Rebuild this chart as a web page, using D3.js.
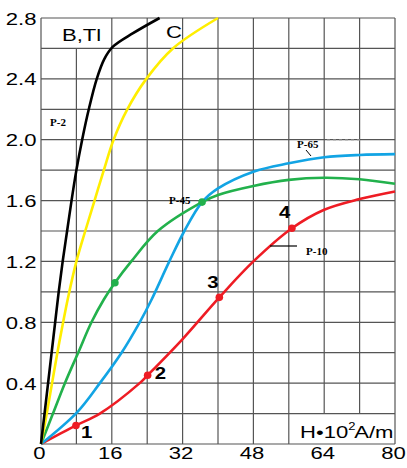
<!DOCTYPE html>
<html lang="en">
<head>
<meta charset="UTF-8">
<title>B-H curves</title>
<script src="https://cdn.jsdelivr.net/npm/d3@7"></script>
<style>
  body { margin: 0; background: #fff; }
  .tick text { font-family: "Liberation Sans", Arial, sans-serif; font-size: 17px; fill: #000; }
  .lbl { font-family: "Liberation Sans", Arial, sans-serif; fill: #000; }
  .plbl { font-family: "Liberation Serif", "Times New Roman", serif; font-weight: bold; font-size: 11px; fill: #000; }
</style>
</head>
<body>
<div id="chart"></div>
<script>
// axis ticks
const xTicks = [0, 16, 32, 48, 64, 80];
const yTicks = [0.4, 0.8, 1.2, 1.6, 2.0, 2.4, 2.8];
const xGrid = d3.range(0, 81, 8);
const yGrid = d3.range(0, 2.81, 0.2);

// curves: [H, B]
const curveB = [[0,0],[0.8,0.2],[1.6,0.4],[2.4,0.6],[3.2,0.8],[4.0,1.0],[4.9,1.2],[5.9,1.4],[6.9,1.6],[8.0,1.8],[9.3,2.0],[10.8,2.2],[12.6,2.4],[14.3,2.53],[16.2,2.61],[20.8,2.7],[26.8,2.8]];
const curveC = [[0,0],[1.3,0.2],[2.5,0.4],[3.7,0.6],[5.0,0.8],[6.1,0.96],[8.0,1.2],[10.0,1.4],[12.1,1.6],[14.2,1.8],[16.4,2.0],[19.5,2.2],[23.8,2.4],[29.8,2.6],[40,2.8]];
const curveP45 = [[0,0],[2.7,0.2],[5.4,0.4],[8.4,0.6],[11.4,0.8],[14.2,0.95],[16.7,1.06],[20.4,1.2],[26.4,1.4],[36.4,1.59],[40,1.637],[48,1.696],[56,1.736],[64,1.75],[72,1.74],[80,1.71]];
const curveP65 = [[0,0],[8.2,0.21],[13.3,0.4],[18.2,0.6],[22.3,0.8],[25,0.95],[29,1.2],[32.4,1.4],[36.4,1.59],[40,1.68],[48,1.79],[56,1.845],[64,1.885],[72,1.9],[80,1.905]];
const curveP10 = [[0,0],[7.9,0.122],[13.3,0.2],[22.3,0.4],[24.1,0.452],[32,0.69],[40.3,0.964],[48,1.2],[56.7,1.418],[64,1.54],[72,1.61],[80,1.66]];

const redPoints = [[7.9,0.122,"1"],[24.1,0.452,"2"],[40.3,0.964,"3"],[56.7,1.418,"4"]];
const greenPoints = [[16.7,1.06],[36.4,1.59]];

const width = 407, height = 468;
const x = d3.scaleLinear([0, 80], [41, 395]);
const y = d3.scaleLinear([0, 2.8], [444, 18]);

const svg = d3.select("#chart").append("svg").attr("width", width).attr("height", height);

// grid (some lines are cut by the label boxes)
const gridTop = v => v > 0 && v < 16 ? 2.6 : 2.8;
const gridBottom = v => v > 56 && v < 80 ? 0.2 : 0;
svg.append("g").selectAll("line").data(xGrid).join("line")
  .attr("x1", d => x(d)).attr("x2", d => x(d))
  .attr("y1", d => y(gridBottom(d))).attr("y2", d => y(gridTop(d)))
  .attr("stroke", "#555").attr("stroke-width", 1.2);
svg.append("g").selectAll("line").data(yGrid).join("line")
  .attr("x1", x(0)).attr("x2", x(80))
  .attr("y1", d => y(d)).attr("y2", d => y(d))
  .attr("stroke", "#555").attr("stroke-width", 1.2);

// axes, text only
const sx = 1.3;
svg.append("g").attr("transform", `translate(${x(0)},0)`)
  .call(d3.axisLeft(y).tickValues(yTicks).tickSize(0).tickFormat(d3.format(".1f")))
  .call(g => g.select(".domain").remove())
  .call(g => g.selectAll("text").attr("x", -4.5 / sx).attr("dy", "0.36em").attr("transform", `scale(${sx},1)`));
svg.append("g").attr("transform", `translate(0,${y(0)})`)
  .call(d3.axisBottom(x).tickValues(xTicks).tickSize(0).tickFormat(d3.format("d")))
  .call(g => g.select(".domain").remove())
  .call(g => g.selectAll("text").attr("y", 3).attr("x", -2 / sx).attr("transform", `scale(${sx},1)`));

// curves
const line = d3.line().x(d => x(d[0])).y(d => y(d[1])).curve(d3.curveCatmullRom.alpha(0.5));
const curves = [
  [curveP10, "#ee1c24"],
  [curveP45, "#22b14c"],
  [curveP65, "#12a4e4"],
  [curveC, "#ffee00"],
  [curveB, "#000000"]
];
svg.append("g").selectAll("path").data(curves).join("path")
  .attr("d", d => line(d[0]))
  .attr("fill", "none")
  .attr("stroke", d => d[1])
  .attr("stroke-width", 2.6);

// markers
svg.append("g").selectAll("circle").data(redPoints).join("circle")
  .attr("cx", d => x(d[0])).attr("cy", d => y(d[1])).attr("r", 3.8).attr("fill", "#ee1c24");
svg.append("g").selectAll("circle").data(greenPoints).join("circle")
  .attr("cx", d => x(d[0])).attr("cy", d => y(d[1])).attr("r", 3.8).attr("fill", "#22b14c");

// point numbers
svg.append("g").selectAll("text").data(redPoints).join("text")
  .attr("class", "lbl")
  .attr("transform", (d, i) => {
    const off = [[5, 13], [7, 4], [-12, -9], [-13, -10]][i];
    return `translate(${x(d[0]) + off[0]},${y(d[1]) + off[1]}) scale(1.2,1)`;
  })
  .attr("font-size", 17).attr("font-weight", "bold")
  .text(d => d[2]);

// curve names
const tx = (t, px, py, size, bold) => svg.append("text").attr("class", "lbl")
  .attr("transform", `translate(${px},${py}) scale(${sx},1)`)
  .attr("font-size", size).attr("font-weight", bold ? "bold" : "normal").text(t);
tx("B,Tl", 62, 41, 17, false);
tx("C", 166, 38, 17, false);

const h = svg.append("text").attr("class", "lbl")
  .attr("transform", `translate(300,438) scale(${sx},1)`).attr("font-size", 17);
h.append("tspan").text("H\u202210");
h.append("tspan").attr("font-size", 10).attr("dx", 0).attr("dy", -8).text("2");
h.append("tspan").attr("dx", -1).attr("dy", 8).text("A/m");

const p = (t, px, py) => svg.append("text").attr("class", "plbl").attr("x", px).attr("y", py).text(t);
p("P-2", 50, 126);
p("P-45", 169, 204);
p("P-65", 297, 148);
p("P-10", 306, 255);

// leaders
svg.append("line").attr("x1", 306).attr("y1", 150).attr("x2", 311).attr("y2", 156).attr("stroke", "#000").attr("stroke-width", 1);
svg.append("line").attr("x1", 327).attr("y1", 140).attr("x2", 360).attr("y2", 140)
  .attr("stroke", "#aaa").attr("stroke-width", 1).attr("stroke-dasharray", "3,3");
svg.append("line").attr("x1", 270).attr("y1", 246).attr("x2", 297).attr("y2", 246).attr("stroke", "#000").attr("stroke-width", 1.2);
</script>
</body>
</html>
